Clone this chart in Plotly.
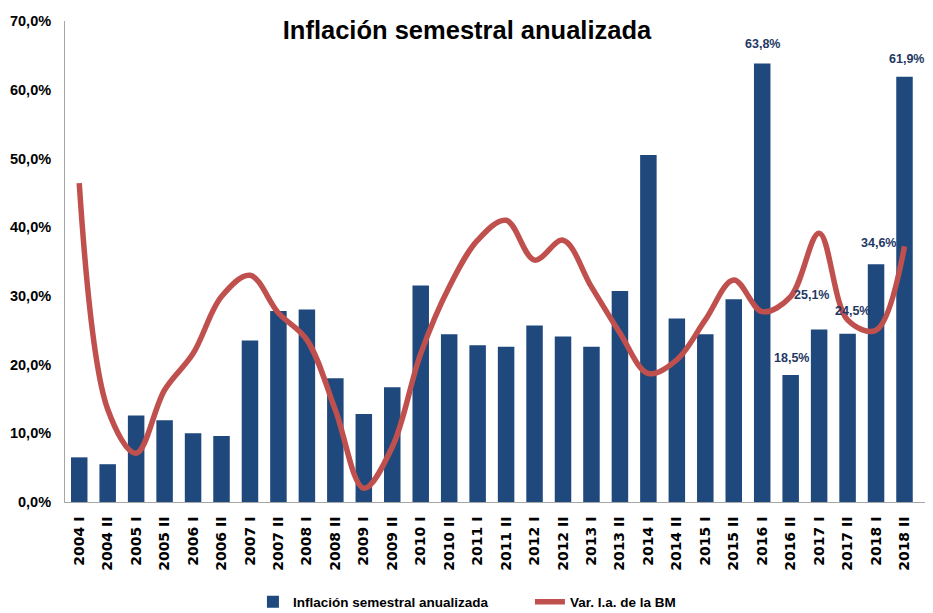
import plotly.graph_objects as go

categories = [
    "2004 I", "2004 II", "2005 I", "2005 II", "2006 I", "2006 II",
    "2007 I", "2007 II", "2008 I", "2008 II", "2009 I", "2009 II",
    "2010 I", "2010 II", "2011 I", "2011 II", "2012 I", "2012 II",
    "2013 I", "2013 II", "2014 I", "2014 II", "2015 I", "2015 II",
    "2016 I", "2016 II", "2017 I", "2017 II", "2018 I", "2018 II",
]

inflacion = [
    6.5, 5.5, 12.6, 11.9, 10.0, 9.6,
    23.5, 27.8, 28.0, 18.0, 12.8, 16.7,
    31.5, 24.4, 22.8, 22.6, 25.7, 24.1,
    22.6, 30.7, 50.5, 26.7, 24.4, 29.5,
    63.8, 18.5, 25.1, 24.5, 34.6, 61.9,
]

var_bm = [
    46.4, 13.5, 7.1, 16.3, 21.6, 29.9,
    33.0, 27.5, 23.6, 13.4, 2.0, 8.0,
    21.6, 31.3, 38.1, 41.0, 35.2, 38.1,
    31.3, 24.6, 18.7, 20.7, 26.5, 32.3,
    27.7, 29.9, 39.1, 26.5, 25.0, 37.2,
]

labeled_idx = [24, 25, 26, 27, 28, 29]
label_shift_x = [0, 1, -8, 5, 2, 2]
label_shift_y = [20, 17, 35, 23, 21, 18]

NARROW = "Liberation Sans, Arial, sans-serif"
WIDE = "DejaVu Sans, Verdana, sans-serif"
BAR_COLOR = "#1F497D"
LINE_COLOR = "#C0504D"

# The page body adds an 8px margin, so the figure is 8px smaller than the window.
W, H = 925, 605

fig = go.Figure()
fig.add_trace(go.Bar(
    x=categories, y=inflacion, name="Inflación semestral anualizada",
    marker=dict(color=BAR_COLOR, line=dict(width=0)),
))
fig.add_trace(go.Scatter(
    x=categories, y=var_bm, name="Var. I.a. de la BM", mode="lines",
    line=dict(color=LINE_COLOR, width=5.5, shape="spline", smoothing=1.0),
))

for i, dx, dy in zip(labeled_idx, label_shift_x, label_shift_y):
    fig.add_annotation(
        x=categories[i], y=inflacion[i],
        text=("%.1f%%" % inflacion[i]).replace(".", ","),
        showarrow=False, xshift=dx, yshift=dy, yanchor="middle",
        font=dict(family=NARROW, size=12.5, color="#1F3864", weight="bold"),
    )

fig.update_layout(
    width=W, height=H,
    margin=dict(l=57, r=7, t=13, b=111, autoexpand=False),
    paper_bgcolor="white", plot_bgcolor="white",
    separators=",.",
    bargap=0.42,
    showlegend=True,
    title=dict(
        text="Inflación semestral anualizada",
        x=459 / W, xanchor="center", xref="container",
        y=1 - 22 / H, yanchor="middle", yref="container",
        font=dict(family=NARROW, size=25.5, color="black", weight="bold"),
    ),
    legend=dict(
        orientation="h", x=0.54, xanchor="center", y=-0.208, yanchor="middle",
        font=dict(family=NARROW, size=13.5, color="black", weight="bold"),
        itemwidth=30, traceorder="normal",
        entrywidth=232, entrywidthmode="pixels",
    ),
    xaxis=dict(
        type="category", tickangle=-90,
        showline=True, linecolor="#A6A6A6", linewidth=1,
        ticks="", showgrid=False, automargin=False,
        tickfont=dict(family=WIDE, size=14, color="black", weight="bold"),
        ticklabelstandoff=8,
    ),
    yaxis=dict(
        range=[0, 70], dtick=10, tickformat=".1f", ticksuffix="%",
        showline=True, linecolor="#A6A6A6", linewidth=1,
        ticks="", showgrid=False, zeroline=False, automargin=False,
        tickfont=dict(family=NARROW, size=14.5, color="black", weight="bold"),
        ticklabelstandoff=10,
    ),
)

fig.write_html("out.html")
